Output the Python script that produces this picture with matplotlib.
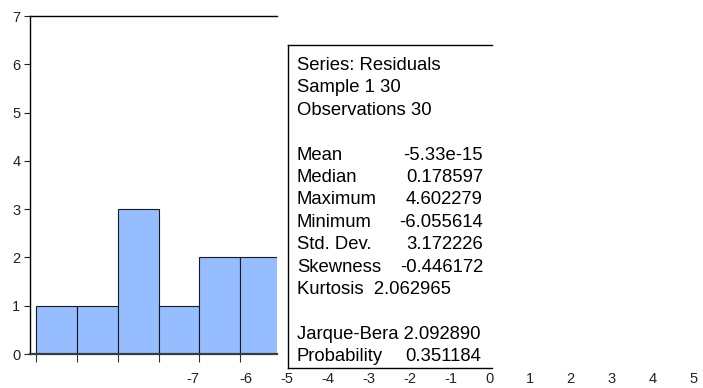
import matplotlib
matplotlib.use("Agg")
import matplotlib.pyplot as plt

plt.rcParams['font.family'] = ['Liberation Sans', 'DejaVu Sans']

# ---- data ----
bin_lefts = [-7, -6, -5, -4, -3, -2]
counts = [1, 1, 3, 1, 2, 2]
yticks = [0, 1, 2, 3, 4, 5, 6, 7]
xlabel_values = [-7, -6, -5, -4, -3, -2, -1, 0, 1, 2, 3, 4, 5]

stats_header = ["Series: Residuals", "Sample 1 30", "Observations 30"]
stat_names = ["Mean", "Median", "Maximum", "Minimum", "Std. Dev.", "Skewness"]
stat_values = ["-5.33e-15", "0.178597", "4.602279", "-6.055614", "3.172226", "-0.446172"]
kurtosis_line = "Kurtosis  2.062965"
jb_line = "Jarque-Bera 2.092890"
prob_name, prob_value = "Probability", "0.351184"

# ---- layout helpers (pixels -> figure fraction) ----
W, H = 703, 388
def fx(px): return px / W
def fy(py): return 1 - py / H

fig = plt.figure(figsize=(W / 100, H / 100), dpi=100)
fig.patch.set_facecolor('white')

unit = 40.85  # pixels per bin

# main histogram axes
ax_l, ax_r, ax_t, ax_b = 30, 277, 16, 354
ax = fig.add_axes([fx(ax_l), fy(ax_b), fx(ax_r) - fx(ax_l), fy(ax_t) - fy(ax_b)])
ax.bar(bin_lefts, counts, width=1, align='edge', color='#95BDFF',
       edgecolor='#1a1a1a', linewidth=0.8, zorder=2)
xl = bin_lefts[0] - 6 / unit
ax.set_xlim(xl, xl + (ax_r - ax_l) / unit)
ax.set_ylim(0, 7)
ax.set_yticks(yticks)
ax.set_xticks(bin_lefts)
ax.set_xticklabels([])
ax.tick_params(axis='y', direction='out', length=4, width=0.8, pad=3,
               labelsize=10.5, colors='#222222')
ax.tick_params(axis='x', direction='out', length=6, width=0.8, colors='#333333')
ax.spines['right'].set_visible(False)
ax.spines['left'].set_linewidth(1.0)
ax.spines['top'].set_linewidth(1.0)
ax.spines['bottom'].set_linewidth(1.6)
ax.spines['bottom'].set_color('#3a3a3a')
ax.spines['bottom'].set_zorder(3)

# tick label row along the bottom
lab = fig.add_axes([fx(ax_l), fy(ax_b), fx(703) - fx(ax_l), fy(ax_t) - fy(ax_b)],
                   frameon=False)
ref_px = 199
left_val = xlabel_values[0] - (ref_px - ax_l) / unit
lab.set_xlim(left_val, left_val + (703 - ax_l) / unit)
lab.set_ylim(0, 1)
lab.set_yticks([])
lab.set_xticks(xlabel_values)
lab.set_xticklabels([str(v) for v in xlabel_values])
lab.tick_params(axis='x', length=0, pad=13, labelsize=10.5, colors='#222222')
for t, v in zip(lab.get_xticklabels(), xlabel_values):
    t.set_ha('right' if v == xlabel_values[0] else 'left')
lab.patch.set_visible(False)

# statistics box
bx_l, bx_r, bx_t, bx_b = 288, 492, 45, 368
sax = fig.add_axes([fx(bx_l), fy(bx_b), fx(bx_r) - fx(bx_l), fy(bx_t) - fy(bx_b)])
sax.set_xticks([])
sax.set_yticks([])
sax.spines['right'].set_visible(False)
for s in ['left', 'top', 'bottom']:
    sax.spines[s].set_linewidth(1.0)
    sax.spines[s].set_color('black')

tx_l, tx_r = 297, 483
base0, step = 70, 22.4
fs = 13.3
def line_y(k): return fy(base0 + step * k)

for k, s in enumerate(stats_header):
    fig.text(fx(tx_l), line_y(k), s, fontsize=fs, va='baseline', ha='left')
for i, (n, v) in enumerate(zip(stat_names, stat_values)):
    k = 4 + i
    fig.text(fx(tx_l), line_y(k), n, fontsize=fs, va='baseline', ha='left')
    fig.text(fx(tx_r), line_y(k), v, fontsize=fs, va='baseline', ha='right')
fig.text(fx(tx_l), line_y(10), kurtosis_line, fontsize=fs, va='baseline', ha='left')
fig.text(fx(tx_l), line_y(12), jb_line, fontsize=fs, va='baseline', ha='left')
fig.text(fx(tx_l), line_y(13), prob_name, fontsize=fs, va='baseline', ha='left')
fig.text(fx(tx_r - 2), line_y(13), prob_value, fontsize=fs, va='baseline', ha='right')

fig.savefig('out.png', dpi=100, facecolor='white')
